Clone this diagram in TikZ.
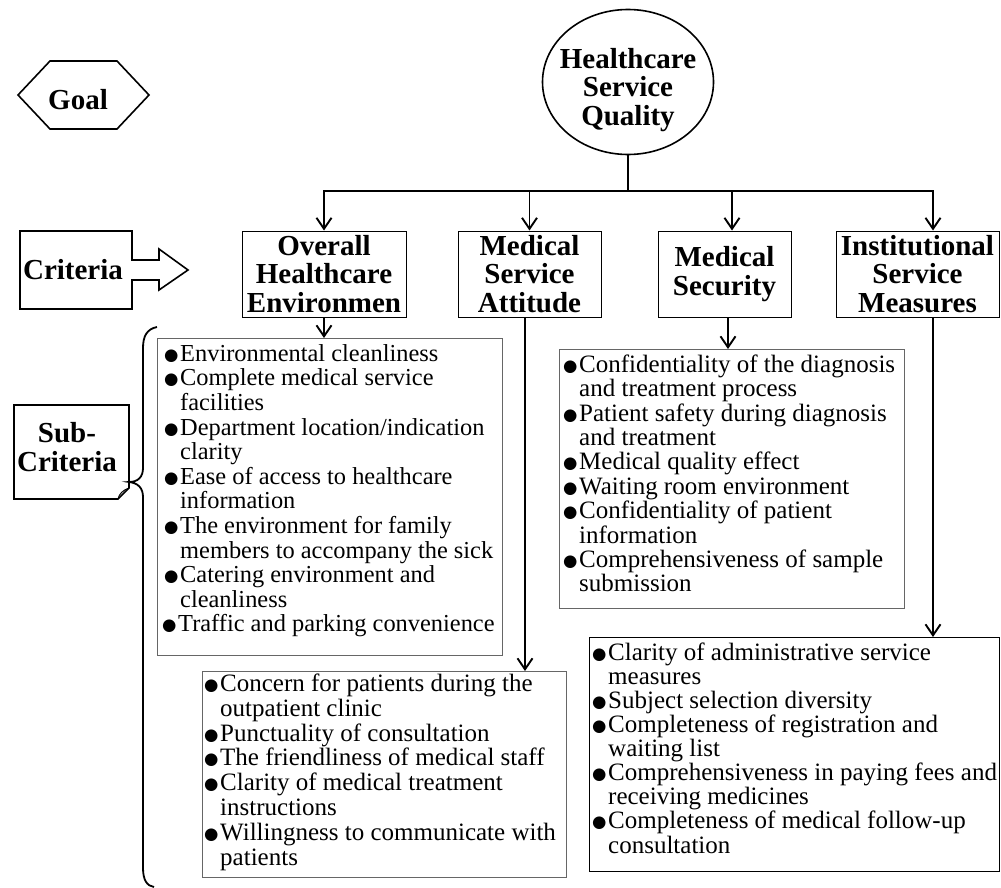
\documentclass[tikz,border=0pt]{standalone}
\usepackage{fontspec}
\setmainfont{Liberation Serif}
\newfontfamily\dejavu{DejaVu Sans}
\usetikzlibrary{arrows.meta,shapes.geometric,calc}
\newcommand\bu{\makebox[16pt][l]{\raisebox{1pt}{\dejavu\fontsize{16.5}{16}\selectfont ●}}}
\newcommand\ind{\hspace*{16pt}}
\newcommand\fst{\rule{0pt}{18pt}}
\begin{document}
\begin{tikzpicture}[x=1pt,y=-1pt,
  ttl/.style={font=\bfseries\fontsize{29}{28.5}\selectfont, align=center, inner sep=0pt},
  crit/.style={ttl, draw=black, line width=1pt, rectangle},
  ibox/.style={draw=black!60, line width=1pt, rectangle, inner sep=0pt, anchor=north west},
  itxt/.style={inner sep=0pt, anchor=north west, align=left, font=\fontsize{25}{#1}\selectfont},
  arr/.style={line width=1.6pt, -{Straight Barb[length=11pt,width=15pt,line width=1.9pt]}},
  con/.style={line width=1.6pt},
  shp/.style={line width=1.6pt, line join=miter}
]
\useasboundingbox (0,0) rectangle (1001,888);

% goal
\draw[shp] (18,95) -- (50,61) -- (117,61) -- (149,95) -- (117,129) -- (50,129) -- cycle;
\node[ttl] (goal) at (78,100) {Goal};

% criteria arrow
\draw[shp] (20,231) -- (132,231) -- (132,260) -- (159,260) -- (159,249) -- (188,270) -- (159,290) -- (159,280) -- (132,280) -- (132,309) -- (20,309) -- cycle;
\node[ttl] (crit) at (73,270) {Criteria};

% sub-criteria
\draw[shp] (14,405) -- (129,405) -- (129,488) -- (118,499) -- (14,499) -- cycle;
\draw[line width=1pt] (118,499) .. controls (119,494) and (123,490) .. (129,488);
\node[ttl] (sub) at (67,447) {Sub-\\Criteria};

% brace
\draw[line width=1.8pt] (157,327) .. controls (147,329) and (143,336) .. (143,348) -- (143,468)
  .. controls (143,477) and (138,482) .. (129,482)
  .. controls (138,483) and (143,488) .. (143,497) -- (143,868)
  .. controls (143,880) and (147,886) .. (154,887);

% goal ellipse
\node[ellipse, draw, line width=1.6pt, minimum width=171pt, minimum height=145pt, inner sep=0pt] (hsq) at (628,82) {};
\node[ttl] (hsqt) at (628,90) {Healthcare\\Service\\Quality};

% criteria boxes
\node[crit, minimum width=164pt, minimum height=86pt] (c1) at (324,274) {Overall\\Healthcare\\Environmen};
\node[crit, minimum width=143pt, minimum height=86pt] (c2) at (529.5,274) {Medical\\Service\\Attitude};
\node[crit, minimum width=133pt, minimum height=86pt] (c3) at (724.5,274) {Medical\\Security};
\node[crit, minimum width=163pt, minimum height=86pt] (c4) at (917.5,274) {Institutional\\Service\\Measures};

% tree connectors
\coordinate (bus) at (628,191);
\draw[con] (hsq.south) -- (bus);
\draw[arr] (bus) -| (c1.north);
\draw[arr] (bus) -| (c2.north);
\coordinate (d3) at ([xshift=7.5pt]c3.north);
\coordinate (d4) at ([xshift=15.5pt]c4.north);
\draw[arr] (bus) -| (d3);
\draw[arr] (bus) -| (d4);

% item boxes
\node[ibox, minimum width=345pt, minimum height=317pt] (s1) at (157,338) {};
\node[ibox, minimum width=364pt, minimum height=206pt] (s2) at (202,671) {};
\node[ibox, minimum width=345pt, minimum height=259pt] (s3) at (559,349) {};
\node[ibox, draw=black, minimum width=410pt, minimum height=234pt] (s4) at (589,637) {};

\draw[arr] (c1.south) -- (c1.south |- s1.north);
\coordinate (e2) at ([xshift=-4.5pt]c2.south);
\draw[arr] (e2) -- (e2 |- s2.north);
\coordinate (e3) at ([xshift=3.5pt]c3.south);
\draw[arr] (e3) -- (e3 |- s3.north);
\coordinate (e4) at (d4 |- c4.south);
\draw[arr] (e4) -- (e4 |- s4.north);

% item texts
\node[itxt=24.6, font=\fontsize{24.4}{24.6}\selectfont] (t1) at (164,343) {\fst\bu Environmental cleanliness\\
\bu Complete medical service\\
\ind facilities\\
\bu Department location/indication\\
\ind clarity\\
\bu Ease of access to healthcare\\
\ind information\\
\bu The environment for family\\
\ind members to accompany the sick\\
\bu Catering environment and\\
\ind cleanliness\\
\hspace*{-2pt}\bu Traffic and parking convenience};

\node[itxt=24.9] (t2) at (204,673) {\fst\bu Concern for patients during the\\
\ind outpatient clinic\\
\bu Punctuality of consultation\\
\bu The friendliness of medical staff\\
\bu Clarity of medical treatment\\
\ind instructions\\
\bu Willingness to communicate with\\
\ind patients};

\node[itxt=24.4] (t3) at (563,354) {\fst\bu Confidentiality of the diagnosis\\
\ind and treatment process\\
\bu Patient safety during diagnosis\\
\ind and treatment\\
\bu Medical quality effect\\
\bu Waiting room environment\\
\bu Confidentiality of patient\\
\ind information\\
\bu Comprehensiveness of sample\\
\ind submission};

\node[itxt=24.1] (t4) at (592,642) {\fst\bu Clarity of administrative service\\
\ind measures\\
\bu Subject selection diversity\\
\bu Completeness of registration and\\
\ind waiting list\\
\bu Comprehensiveness in paying fees and\\
\ind receiving medicines\\
\bu Completeness of medical follow-up\\
\ind consultation};
\end{tikzpicture}
\end{document}
